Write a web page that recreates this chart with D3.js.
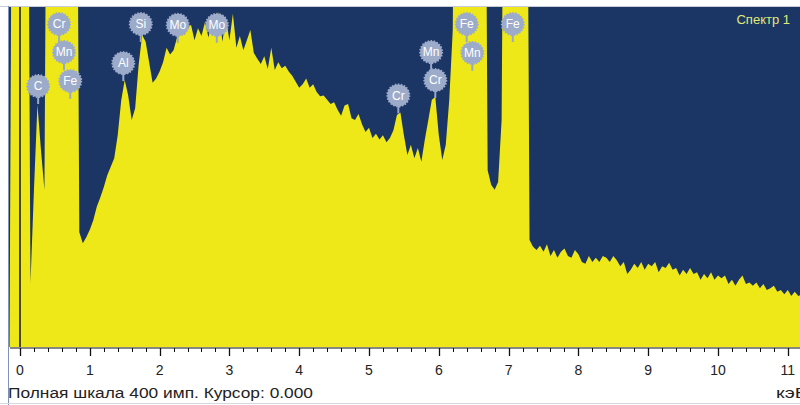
<!DOCTYPE html>
<html>
<head>
<meta charset="utf-8">
<script src="https://cdn.jsdelivr.net/npm/d3@7"></script>
<style>
  body { margin: 0; background: #fff; }
  svg { display: block; font-family: "Liberation Sans", Arial, sans-serif; }
</style>
</head>
<body>
<div id="chart"></div>
<script>
// spectrum channels: first channel energy and channel width (keV)
var energyStart = -0.15;
var energyStep = 0.05;
// counts per channel (peaks above full scale are clipped)
var counts = [
  0, 900, 900, 900, 900, 900, 75, 185, 285, 232,
  185, 900, 900, 900, 900, 900, 900, 900, 900, 900,
  135, 122, 129, 138, 149, 165, 176, 188, 202, 212,
  222, 249, 290, 314, 296, 267, 281, 332, 367, 359,
  335, 311, 316, 324, 335, 352, 344, 349, 364, 382,
  367, 375, 379, 361, 375, 366, 382, 364, 385, 373,
  394, 359, 387, 361, 392, 352, 366, 349, 361, 373,
  346, 339, 333, 342, 327, 352, 326, 335, 328, 331,
  324, 319, 312, 305, 309, 316, 305, 309, 300, 295,
  296, 291, 286, 288, 279, 272, 284, 286, 269, 267,
  274, 262, 253, 258, 246, 251, 244, 249, 241, 246,
  255, 273, 276, 249, 226, 238, 222, 234, 218, 244,
  267, 291, 294, 249, 220, 238, 291, 373, 900, 900,
  900, 900, 900, 900, 900, 900, 900, 208, 191, 185,
  194, 267, 900, 900, 900, 900, 900, 900, 900, 126,
  118, 114, 119, 112, 121, 107, 114, 105, 112, 116,
  107, 105, 114, 109, 100, 98, 107, 100, 105, 100,
  107, 105, 100, 107, 102, 95, 100, 86, 91, 98,
  93, 100, 91, 98, 95, 100, 88, 95, 93, 99,
  91, 93, 84, 91, 86, 93, 86, 88, 79, 86,
  81, 88, 79, 84, 81, 84, 74, 79, 72, 79,
  84, 74, 76, 72, 76, 69, 74, 67, 69, 72,
  65, 67, 62, 67, 60, 65, 60, 62
];

// element markers: name, energy (keV), height of the marker (counts)
var peakNames  = ["C", "Cr", "Mn", "Fe", "Al", "Si", "Mo", "Mo", "Cr", "Mn", "Cr", "Fe", "Mn", "Fe"];
var peakEnergy = [0.26, 0.56, 0.63, 0.72, 1.48, 1.73, 2.26, 2.82, 5.42, 5.89, 5.95, 6.40, 6.48, 7.06];
var peakLevel  = [307, 380, 347, 313, 334, 380, 379, 379, 296, 347, 314, 380, 346, 380];

var tickValues = [0, 1, 2, 3, 4, 5, 6, 7, 8, 9, 10, 11];
var fullScale = 400;

var W = 800, H = 405;
var plot = { left: 9, top: 7, right: 800, bottom: 347 };

var svg = d3.select("#chart").append("svg")
  .attr("width", W)
  .attr("height", H);

var x = d3.scaleLinear().domain([0, 11]).range([20, 787.8]);
var y = d3.scaleLinear().domain([0, fullScale]).range([plot.bottom, plot.top]);

var data = counts.map(function (c, i) {
  return { e: energyStart + i * energyStep, c: c };
});

svg.append("defs").append("clipPath").attr("id", "plotClip")
  .append("rect")
  .attr("x", plot.left).attr("y", plot.top)
  .attr("width", plot.right - plot.left)
  .attr("height", plot.bottom - plot.top);

// frame lines
svg.append("line")
  .attr("x1", 0).attr("x2", W).attr("y1", 6.5).attr("y2", 6.5)
  .attr("stroke", "#c8ccd8").attr("stroke-width", 1);
svg.append("line")
  .attr("x1", 8.5).attr("x2", 8.5).attr("y1", 6).attr("y2", H)
  .attr("stroke", "#7f93bb").attr("stroke-width", 1);
svg.append("line")
  .attr("x1", 0).attr("x2", W).attr("y1", 403.5).attr("y2", 403.5)
  .attr("stroke", "#d4d8e0").attr("stroke-width", 1);

var g = svg.append("g").attr("clip-path", "url(#plotClip)");

g.append("rect")
  .attr("x", plot.left).attr("y", plot.top)
  .attr("width", plot.right - plot.left)
  .attr("height", plot.bottom - plot.top)
  .attr("fill", "#1b3565");

var area = d3.area()
  .x(function (d) { return x(d.e); })
  .y0(y(0))
  .y1(function (d) { return y(d.c); });

g.append("path")
  .datum(data)
  .attr("d", area)
  .attr("fill", "#efe818");

// cursor at 0.000
g.append("line")
  .attr("x1", x(0)).attr("x2", x(0))
  .attr("y1", plot.top).attr("y2", plot.bottom)
  .attr("stroke", "#111").attr("stroke-width", 1.5);

// element markers
var marker = g.selectAll("g.peak")
  .data(peakNames)
  .enter()
  .append("g")
  .attr("class", "peak")
  .attr("transform", function (d, i) {
    return "translate(" + x(peakEnergy[i]) + "," + y(peakLevel[i]) + ")";
  });

marker.append("line")
  .attr("x1", 0).attr("x2", 0).attr("y1", 8).attr("y2", 18)
  .attr("stroke", "#9aa9c8").attr("stroke-width", 2);

marker.append("circle")
  .attr("r", 11)
  .attr("fill", "#9dabca")
  .attr("stroke", "#9dabca")
  .attr("stroke-width", 2)
  .attr("stroke-dasharray", "1.5,1.5");

marker.append("text")
  .attr("text-anchor", "middle")
  .attr("dy", "0.36em")
  .attr("font-size", 12)
  .attr("fill", "#fff")
  .text(function (d) { return d; });

svg.append("text")
  .attr("x", 790).attr("y", 24)
  .attr("text-anchor", "end")
  .attr("font-size", 13)
  .attr("fill", "#e2ea76")
  .text("Спектр 1");

// energy axis
var minorTicks = d3.range(0, 56).map(function (i) { return i * 0.2; });
var axis = svg.append("g");
axis.append("line")
  .attr("x1", 10).attr("x2", W)
  .attr("y1", 348).attr("y2", 348)
  .attr("stroke", "#111").attr("stroke-width", 1.2);
axis.selectAll("line.minor")
  .data(minorTicks)
  .enter()
  .append("line")
  .attr("class", "minor")
  .attr("x1", function (d) { return Math.round(x(d)) + 0.5; })
  .attr("x2", function (d) { return Math.round(x(d)) + 0.5; })
  .attr("y1", 348).attr("y2", 352)
  .attr("stroke", "#111");
axis.selectAll("line.major")
  .data(tickValues)
  .enter()
  .append("line")
  .attr("class", "major")
  .attr("x1", function (d) { return Math.round(x(d)) + 0.5; })
  .attr("x2", function (d) { return Math.round(x(d)) + 0.5; })
  .attr("y1", 348).attr("y2", 356)
  .attr("stroke", "#111").attr("stroke-width", 1.3);
axis.selectAll("text.tick")
  .data(tickValues)
  .enter()
  .append("text")
  .attr("class", "tick")
  .attr("x", function (d) { return x(d); })
  .attr("y", 375)
  .attr("text-anchor", "middle")
  .attr("font-size", 14)
  .attr("fill", "#222")
  .text(function (d) { return d; });

svg.append("text")
  .attr("x", 8).attr("y", 398)
  .attr("font-size", 14)
  .attr("textLength", 305)
  .attr("lengthAdjust", "spacingAndGlyphs")
  .attr("fill", "#222")
  .text("Полная шкала 400 имп. Курсор: 0.000");

svg.append("text")
  .attr("x", 776).attr("y", 398)
  .attr("font-size", 14)
  .attr("textLength", 32)
  .attr("lengthAdjust", "spacingAndGlyphs")
  .attr("fill", "#222")
  .text("кэВ");
</script>
</body>
</html>
